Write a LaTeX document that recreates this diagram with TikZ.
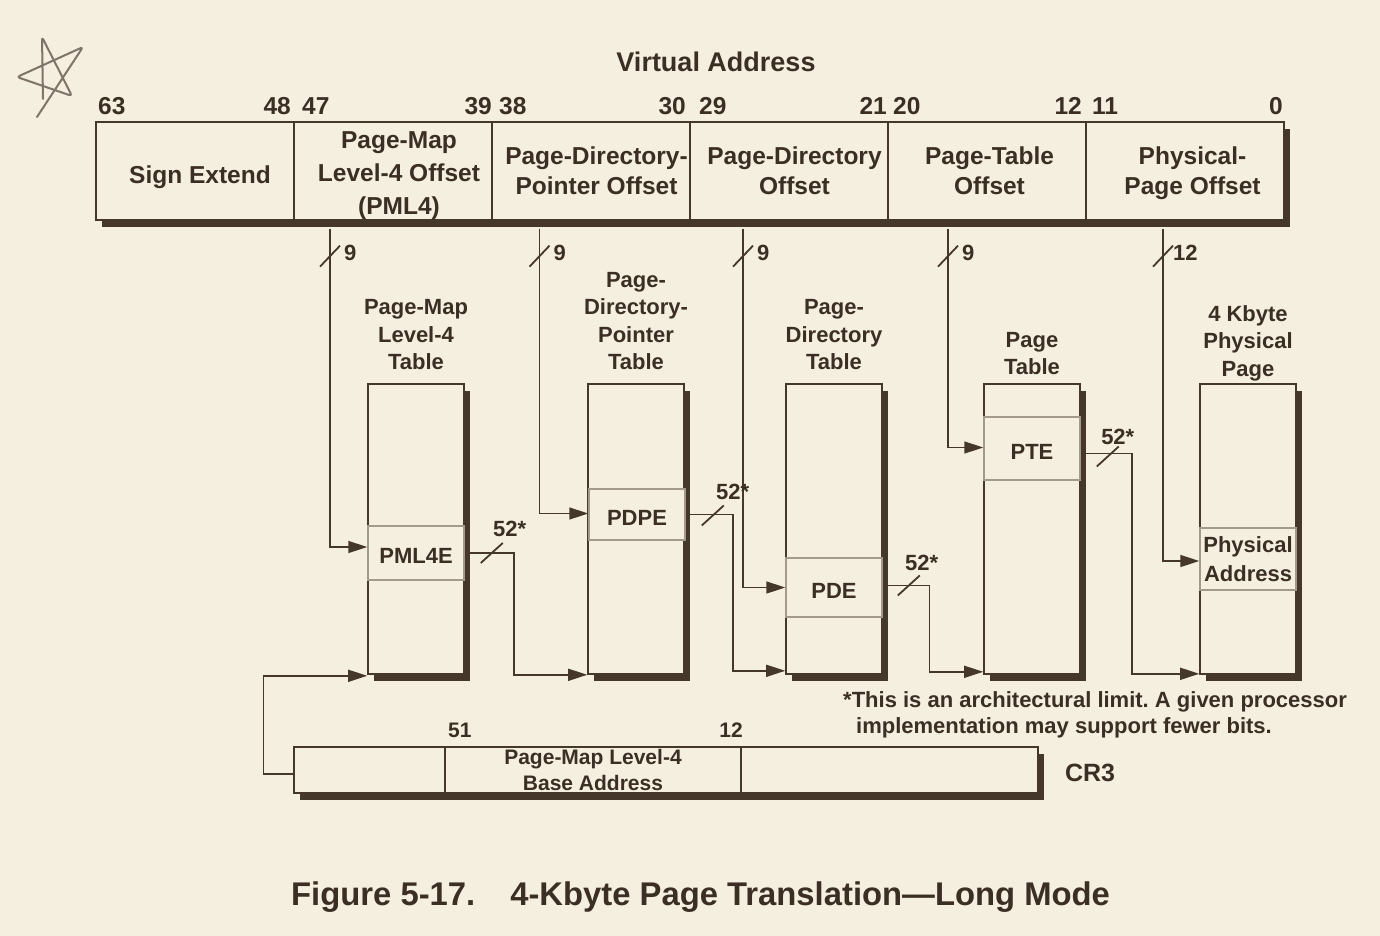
\documentclass[tikz,border=0pt]{standalone}
\usepackage{fontspec}
\setmainfont{Liberation Sans}
\usetikzlibrary{positioning}
\usetikzlibrary{calc}
\usetikzlibrary{arrows.meta}
\usetikzlibrary{shadows}
\definecolor{paper}{HTML}{F5EFE0}
\definecolor{ink}{HTML}{45382B}
\definecolor{inktext}{HTML}{3B2F23}
\definecolor{entryline}{HTML}{A39A8A}
\definecolor{scrawl}{HTML}{7E7468}
\tikzset{>={Triangle[length=19pt,width=12pt]}}
\tikzset{shadowed/.style={drop shadow={shadow xshift=6pt,shadow yshift=-7pt,fill=ink,opacity=1}}}
\tikzset{field/.style={draw=ink,fill=paper,line width=1.3pt,shadowed,minimum width=198pt,minimum height=98pt,inner sep=0pt}}
\tikzset{ftext/.style={inner sep=0pt,align=center,font=\bfseries\fontsize{24.5}{30}\selectfont}}
\tikzset{tbl/.style={draw=ink,fill=paper,line width=1.6pt,shadowed,minimum width=96pt,minimum height=290pt,inner sep=0pt}}
\tikzset{entry/.style={draw=entryline,fill=paper,line width=1.5pt,minimum width=96pt,inner sep=0pt,align=center,font=\bfseries\fontsize{22}{29}\selectfont}}
\tikzset{entry1/.style={entry,text height=21.5pt,text depth=0pt}}
\tikzset{cr3part/.style={draw=ink,fill=paper,line width=1.3pt,shadowed,minimum height=46pt,inner sep=0pt,align=center,font=\bfseries\fontsize{21}{26}\selectfont}}
\tikzset{bits/.style={inner sep=0pt,font=\bfseries\fontsize{24.5}{24.5}\selectfont}}
\tikzset{num/.style={inner sep=0pt,font=\bfseries\fontsize{22}{22}\selectfont}}
\tikzset{lbl/.style={inner sep=0pt,align=center,font=\bfseries\fontsize{22}{27.5}\selectfont}}
\tikzset{wire/.style={draw=ink,line width=1.5pt}}
\tikzset{slash/.style={draw=ink,line width=1.8pt}}
\frenchspacing

\begin{document}
\begin{tikzpicture}[x=1pt,y=-1pt,every node/.style={text=inktext}]
\fill[paper] (0,0) rectangle (1380,936);
\useasboundingbox (0,0) rectangle (1380,936);

% scribbled star
\draw[scrawl,line width=2pt,line cap=round,line join=round,rounded corners=3pt]
 (43,99) -- (42,37) -- (72,96) -- (17,77) -- (83,47) -- (37,117);

% virtual address
\node[inner sep=0pt,font=\bfseries\fontsize{27}{27}\selectfont] (va) at (716,62) {Virtual Address};

\node[field] (se) at (195,171) {};
\node[field] (pml4o) at (393,171) {};
\node[field] (pdpo) at (591,171) {};
\node[field] (pdo) at (789,171) {};
\node[field] (pto) at (987,171) {};
\node[field] (ppo) at (1185,171) {};

\node[ftext] (setxt) at ([xshift=5pt,yshift=-6pt]se.center) {Sign Extend};
\node[ftext,font=\bfseries\fontsize{24.5}{33}\selectfont] (pml4txt) at ([xshift=6pt,yshift=-5pt]pml4o.center) {Page-Map\\Level-4 Offset\\(PML4)};
\node[ftext] (pdptxt) at ([xshift=5.5pt]pdpo.center) {Page-Directory-\\Pointer Offset};
\node[ftext] (pdtxt) at ([xshift=5.5pt]pdo.center) {Page-Directory\\Offset};
\node[ftext] (pttxt) at ([xshift=2.5pt]pto.center) {Page-Table\\Offset};
\node[ftext] (pptxt) at ([xshift=7.5pt,yshift=-2pt]ppo.center) {Physical-\\Page Offset};

\node[bits,anchor=base west] (b63) at (98,115) {63};
\node[bits,anchor=base east] (b48) at (291,115) {48};
\node[bits,anchor=base west] (b47) at (302,115) {47};
\node[bits,anchor=base east] (b39) at (492,115) {39};
\node[bits,anchor=base west] (b38) at (499,115) {38};
\node[bits,anchor=base east] (b30) at (686,115) {30};
\node[bits,anchor=base west] (b29) at (699,115) {29};
\node[bits,anchor=base east] (b21) at (887,115) {21};
\node[bits,anchor=base west] (b20) at (893,115) {20};
\node[bits,anchor=base east] (b12) at (1082,115) {12};
\node[bits,anchor=base west] (b11) at (1092,115) {11};
\node[bits,anchor=base east] (b0) at (1283,115) {0};

% tables
\node[tbl] (pml4t) at (416,529) {};
\node[tbl] (pdpt) at (636,529) {};
\node[tbl] (pdt) at (834,529) {};
\node[tbl] (ptt) at (1032,529) {};
\node[tbl] (pgt) at (1248,529) {};

\node[lbl,above=13pt of pml4t] (pml4lbl) {Page-Map\\Level-4\\Table};
\node[lbl,above=13pt of pdpt] (pdplbl) {Page-\\Directory-\\Pointer\\Table};
\node[lbl,above=13pt of pdt] (pdlbl) {Page-\\Directory\\Table};
\node[lbl,above=8pt of ptt] (ptlbl) {Page\\Table};
\node[lbl,above=2pt of pgt] (pglbl) {4 Kbyte\\Physical\\Page};

\node[entry1,minimum height=54pt] (pml4e) at (416,553) {PML4E};
\node[entry1,minimum height=51pt] (pdpe) at (637,514.5) {PDPE};
\node[entry1,minimum height=59pt] (pde) at (834,587.5) {PDE};
\node[entry1,minimum height=63pt] (pte) at (1032,448.5) {PTE};
\node[entry,minimum height=62pt] (pa) at (1248,559) {Physical\\Address};

% taps from the virtual address
\coordinate (t1) at ([xshift=-63pt,yshift=-8pt]pml4o.south);
\coordinate (t2) at ([xshift=-51.5pt,yshift=-8pt]pdpo.south);
\coordinate (t3) at ([xshift=-46pt,yshift=-8pt]pdo.south);
\coordinate (t4) at ([xshift=-39pt,yshift=-8pt]pto.south);
\coordinate (t5) at ([xshift=-22pt,yshift=-8pt]ppo.south);

\draw[wire,->] (t1) |- ([yshift=6pt]pml4e.west);
\draw[wire,->] (t2) |- ([yshift=1pt]pdpe.west);
\draw[wire,->] (t3) |- (pde.west);
\draw[wire,->] (t4) |- ([yshift=1pt]pte.west);
\draw[wire,->] (t5) |- ([yshift=-2pt]pa.west);

\draw[slash] ($(t1)+(-10,38)$) -- ++(20,-21);
\draw[slash] ($(t2)+(-10,38)$) -- ++(20,-21);
\draw[slash] ($(t3)+(-10,38)$) -- ++(20,-21);
\draw[slash] ($(t4)+(-10,38)$) -- ++(20,-21);
\draw[slash] ($(t5)+(-10,38)$) -- ++(20,-21);
\node[num,anchor=west] (n1) at ($(t1)+(14,24)$) {9};
\node[num,anchor=west] (n2) at ($(t2)+(14,24)$) {9};
\node[num,anchor=west] (n3) at ($(t3)+(14,24)$) {9};
\node[num,anchor=west] (n4) at ($(t4)+(14,24)$) {9};
\node[num,anchor=west] (n5) at ($(t5)+(10,24)$) {12};

% entry to next table
\draw[wire,->] (pml4e.east) -- ++(49,0) |- (pdpt.south west);
\draw[wire,->] (pdpe.east) -- ++(47,0) |- ([yshift=4pt]pdt.south west);
\draw[wire,->] ([yshift=2pt]pde.east) -- ++(46.5,0) |- ([yshift=3pt]ptt.south west);
\draw[wire,->] ([yshift=-5pt]pte.east) -- ++(51,0) |- ([yshift=1pt]pgt.south west);

\draw[slash] ($(pml4e.east)+(16,10)$) -- ++(22,-20);
\draw[slash] ($(pdpe.east)+(16,11)$) -- ++(22,-20);
\draw[slash] ($(pde.east)+(15,8)$) -- ++(22,-20);
\draw[slash] ($(pte.east)+(16,18)$) -- ++(22,-20);
\node[num] (w1) at ($(pml4e.east)+(45,-24)$) {52*};
\node[num] (w2) at ($(pdpe.east)+(47,-22.5)$) {52*};
\node[num] (w3) at ($(pde.east)+(39,-24.5)$) {52*};
\node[num] (w4) at ($(pte.east)+(37,-12)$) {52*};

% CR3
\node[cr3part,minimum width=151pt] (cr3a) at (369.5,770) {};
\node[cr3part,minimum width=296pt] (cr3b) at (593,770) {Page-Map Level-4\\Base Address};
\node[cr3part,minimum width=297pt] (cr3c) at (889.5,770) {};
\node[num,font=\bfseries\fontsize{21}{21}\selectfont,anchor=base west] (b51) at (448,737) {51};
\node[num,font=\bfseries\fontsize{21}{21}\selectfont,anchor=base east] (b12b) at (743,737) {12};
\node[inner sep=0pt,font=\bfseries\fontsize{25}{25}\selectfont] (cr3lbl) at (1090,773) {CR3};

\draw[wire,->] ([yshift=-4pt]cr3a.west) -- ++(-30,0) |- ([yshift=-1pt]pml4t.south west);

% footnote and caption
\node[lbl,align=left,anchor=north west,font=\bfseries\fontsize{22}{26}\selectfont] (fn) at (843,691)
 {*This is an architectural limit. A given processor\\\hspace*{13pt}implementation may support fewer bits.};
\node[inner sep=0pt,anchor=base west,font=\bfseries\fontsize{32.8}{32.8}\selectfont] (cap) at (291,905)
 {Figure 5-17.\hspace*{35pt}4-Kbyte Page Translation—Long Mode};

\end{tikzpicture}
\end{document}
